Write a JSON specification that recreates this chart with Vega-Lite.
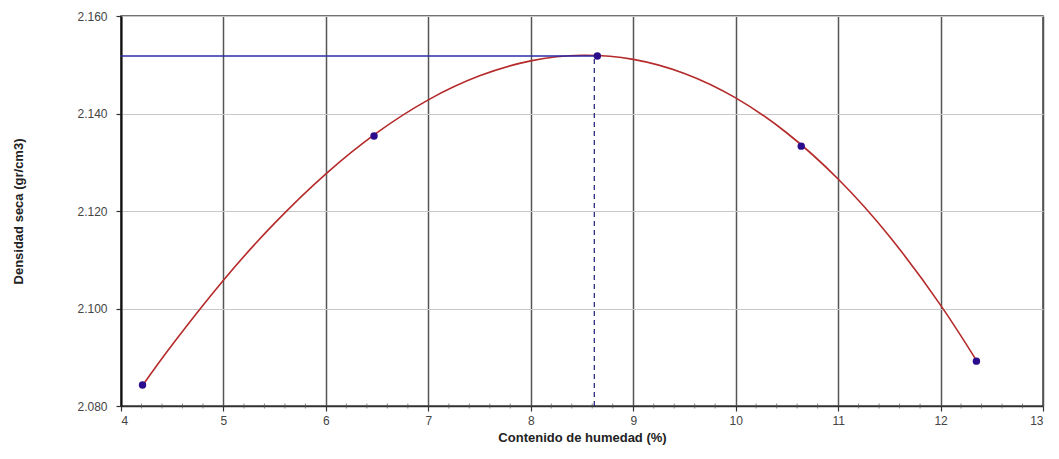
{
  "$schema": "https://vega.github.io/schema/vega-lite/v6.json",
  "width": 922,
  "height": 390,
  "autosize": {"type": "none"},
  "padding": {"left": 121, "top": 16, "right": 16, "bottom": 53},
  "background": "white",
  "config": {
    "font": "Liberation Sans",
    "view": {"stroke": "#444", "strokeWidth": 1.5},
    "axis": {"labelFont": "Liberation Sans", "titleFont": "Liberation Sans"}
  },
  "datasets": {
    "curve": [
      {"x": 4.21, "y": 2.08419},
      {"x": 4.5, "y": 2.09255},
      {"x": 5.0, "y": 2.1058},
      {"x": 5.5, "y": 2.11751},
      {"x": 6.0, "y": 2.12763},
      {"x": 6.5, "y": 2.13608},
      {"x": 7.0, "y": 2.1428},
      {"x": 7.5, "y": 2.14772},
      {"x": 8.0, "y": 2.15079},
      {"x": 8.5, "y": 2.15194},
      {"x": 9.0, "y": 2.1511},
      {"x": 9.5, "y": 2.14821},
      {"x": 10.0, "y": 2.1432},
      {"x": 10.5, "y": 2.136},
      {"x": 11.0, "y": 2.12657},
      {"x": 11.5, "y": 2.11482},
      {"x": 12.0, "y": 2.1007},
      {"x": 12.35, "y": 2.08936}
    ],
    "points": [
      {"x": 4.21, "y": 2.0843},
      {"x": 6.47, "y": 2.1354},
      {"x": 8.65, "y": 2.1518},
      {"x": 10.64, "y": 2.1333},
      {"x": 12.35, "y": 2.0892}
    ],
    "hline": [{"x": 4, "x2": 8.63, "y": 2.1518}],
    "vline": [{"x": 8.62, "y": 2.08, "y2": 2.1518}],
    "minor": [
      {"x": 4.2}, {"x": 4.4}, {"x": 4.6}, {"x": 4.8},
      {"x": 5.2}, {"x": 5.4}, {"x": 5.6}, {"x": 5.8},
      {"x": 6.2}, {"x": 6.4}, {"x": 6.6}, {"x": 6.8},
      {"x": 7.2}, {"x": 7.4}, {"x": 7.6}, {"x": 7.8},
      {"x": 8.2}, {"x": 8.4}, {"x": 8.6}, {"x": 8.8},
      {"x": 9.2}, {"x": 9.4}, {"x": 9.6}, {"x": 9.8},
      {"x": 10.2}, {"x": 10.4}, {"x": 10.6}, {"x": 10.8},
      {"x": 11.2}, {"x": 11.4}, {"x": 11.6}, {"x": 11.8},
      {"x": 12.2}, {"x": 12.4}, {"x": 12.6}, {"x": 12.8}
    ]
  },
  "layer": [
    {
      "data": {"name": "curve"},
      "mark": {"type": "line", "interpolate": "natural", "color": "#b52a2a", "strokeWidth": 1.6},
      "encoding": {
        "x": {
          "field": "x", "type": "quantitative",
          "scale": {"domain": [4, 13], "nice": false, "zero": false},
          "axis": {
            "values": [4,5,6,7,8,9,10,11,12,13],
            "format": "d",
            "title": "Contenido de humedad (%)",
            "titleFontSize": 13, "titleFontWeight": "bold", "titleColor": "#222", "titlePadding": 5,
            "labelFontSize": 12, "labelColor": "#444", "labelPadding": 4,
            "grid": true, "gridColor": "#555", "gridWidth": 1.5,
            "domainColor": "#333", "domainWidth": 1.5,
            "tickColor": "#333", "tickSize": 5, "tickWidth": 1.2
          }
        },
        "y": {
          "field": "y", "type": "quantitative",
          "scale": {"domain": [2.08, 2.16], "nice": false, "zero": false},
          "axis": {
            "values": [2.08, 2.1, 2.12, 2.14, 2.16],
            "format": ".3f",
            "title": "Densidad seca (gr/cm3)",
            "titleFontSize": 13, "titleFontWeight": "bold", "titleColor": "#222", "titlePadding": 51,
            "labelFontSize": 12, "labelColor": "#444", "labelPadding": 9,
            "grid": true, "gridColor": "#c8c8c8", "gridWidth": 1,
            "domainColor": "#111", "domainWidth": 2,
            "tickColor": "#333", "tickSize": 5, "tickWidth": 1.2
          }
        }
      }
    },
    {
      "data": {"name": "minor"},
      "mark": {"type": "tick", "orient": "vertical", "color": "#555", "size": 5, "thickness": 1},
      "encoding": {
        "x": {"field": "x", "type": "quantitative"},
        "y": {"datum": 2.08, "type": "quantitative"}
      }
    },
    {
      "data": {"name": "hline"},
      "mark": {"type": "rule", "color": "#2b2ba8", "strokeWidth": 1.6},
      "encoding": {
        "x": {"field": "x", "type": "quantitative"},
        "x2": {"field": "x2"},
        "y": {"field": "y", "type": "quantitative"}
      }
    },
    {
      "data": {"name": "vline"},
      "mark": {"type": "rule", "color": "#1a1a70", "strokeWidth": 1.2, "strokeDash": [5, 4]},
      "encoding": {
        "x": {"field": "x", "type": "quantitative"},
        "y": {"field": "y", "type": "quantitative"},
        "y2": {"field": "y2"}
      }
    },
    {
      "data": {"name": "points"},
      "mark": {"type": "circle", "color": "#2a0c8c", "opacity": 1, "size": 55},
      "encoding": {
        "x": {"field": "x", "type": "quantitative"},
        "y": {"field": "y", "type": "quantitative"}
      }
    }
  ]
}
